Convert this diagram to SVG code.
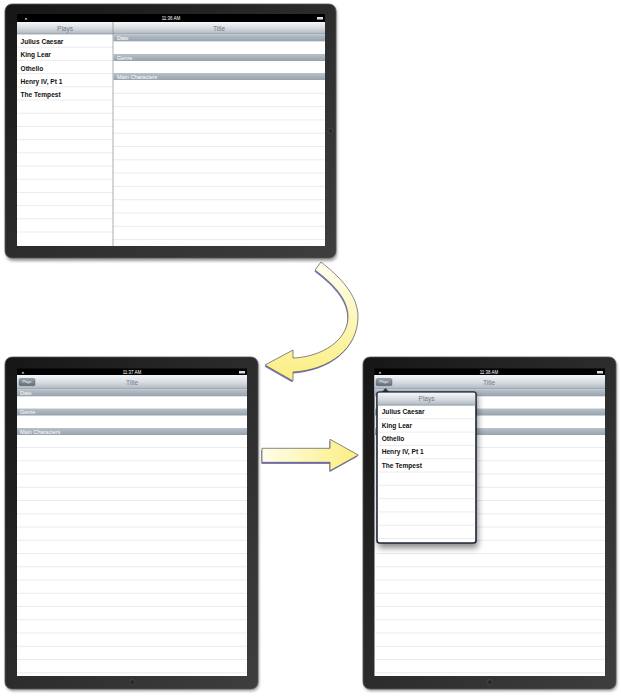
<svg xmlns="http://www.w3.org/2000/svg" width="621" height="696" viewBox="0 0 621 696">
<defs>
<linearGradient id="bezel" x1="0" y1="0" x2="1" y2="1">
<stop offset="0" stop-color="#161616"/><stop offset="0.5" stop-color="#2c2c2c"/><stop offset="1" stop-color="#3e3e3e"/>
</linearGradient>
<linearGradient id="nav" x1="0" y1="0" x2="0" y2="1">
<stop offset="0" stop-color="#f5f6f8"/><stop offset="0.5" stop-color="#d8dde2"/><stop offset="1" stop-color="#aeb6bf"/>
</linearGradient>
<linearGradient id="sec" x1="0" y1="0" x2="0" y2="1">
<stop offset="0" stop-color="#b9c2ca"/><stop offset="1" stop-color="#97a2ad"/>
</linearGradient>
<linearGradient id="btn" x1="0" y1="0" x2="0" y2="1">
<stop offset="0" stop-color="#9aa5b0"/><stop offset="1" stop-color="#5e6b79"/>
</linearGradient>
<linearGradient id="arrV" x1="0" y1="0" x2="0" y2="1">
<stop offset="0" stop-color="#fffef0"/><stop offset="1" stop-color="#fbee80"/>
</linearGradient>
<linearGradient id="arrH" x1="0" y1="0" x2="1" y2="0">
<stop offset="0" stop-color="#fffdeb"/><stop offset="1" stop-color="#fbee80"/>
</linearGradient>
<filter id="soft" x="-10%" y="-10%" width="120%" height="120%"><feGaussianBlur stdDeviation="1.5"/></filter>
<filter id="pop" x="-20%" y="-20%" width="140%" height="140%"><feGaussianBlur stdDeviation="3"/></filter>
<style>
.bz{fill:url(#bezel);stroke:#555;stroke-width:0.8}
.sh{fill:#9a9a9a;filter:url(#soft)}
.scr{fill:#fff}
.sb{fill:#000}
.nav{fill:url(#nav)}
.navl{stroke:#7d8791;stroke-width:0.6}
.sec{fill:url(#sec)}
.sl{stroke:#e3e3e3;stroke-width:0.7}
.tt{font-family:"Liberation Sans",Arial,sans-serif;font-size:6.5px;fill:#6e7984;text-anchor:middle}
.st{font-family:"Liberation Sans",Arial,sans-serif;font-size:4.5px;fill:#fff;text-anchor:middle}
.sx{font-family:"Liberation Sans",Arial,sans-serif;font-size:5.5px;fill:#fff}
.rw{font-family:"Liberation Sans",Arial,sans-serif;font-size:6.6px;font-weight:bold;fill:#111}
.bt{font-family:"Liberation Sans",Arial,sans-serif;font-size:3.6px;fill:#fff;text-anchor:middle}
.hb{fill:#2a2a2a;stroke:#4a4a4a;stroke-width:0.8}
.arr{stroke:#555;stroke-width:0.7}
.ash{fill:#7d76c6}
</style>
</defs>

<g id="ipad-landscape">
<rect class="sh" x="6" y="6" width="331" height="255" rx="7"/>
<rect class="bz" x="5" y="4" width="331" height="254" rx="7"/>
<rect class="scr" x="17" y="22" width="308" height="224"/>
<rect class="sb" x="17" y="14" width="308" height="8"/>
<text class="st" x="171" y="19.6">11:36 AM</text>
<path d="M24.5,19.5 l1.5,-2 l1.5,2 z" fill="#ccc"/>
<rect x="317" y="17" width="6" height="2.5" fill="#ddd"/>
<rect class="nav" x="17" y="22" width="308" height="12"/>
<line class="navl" x1="17" y1="34" x2="325" y2="34"/>
<text class="tt" x="65" y="30.5">Plays</text>
<text class="tt" x="219" y="30.5">Title</text>
<g class="sl">
<line x1="17" y1="47.2" x2="113" y2="47.2"/><line x1="17" y1="60.4" x2="113" y2="60.4"/><line x1="17" y1="73.6" x2="113" y2="73.6"/><line x1="17" y1="86.8" x2="113" y2="86.8"/><line x1="17" y1="100" x2="113" y2="100"/><line x1="17" y1="113.2" x2="113" y2="113.2"/><line x1="17" y1="126.4" x2="113" y2="126.4"/><line x1="17" y1="139.6" x2="113" y2="139.6"/><line x1="17" y1="152.8" x2="113" y2="152.8"/><line x1="17" y1="166" x2="113" y2="166"/><line x1="17" y1="179.2" x2="113" y2="179.2"/><line x1="17" y1="192.4" x2="113" y2="192.4"/><line x1="17" y1="205.6" x2="113" y2="205.6"/><line x1="17" y1="218.8" x2="113" y2="218.8"/><line x1="17" y1="232" x2="113" y2="232"/>
<line x1="113" y1="93.3" x2="325" y2="93.3"/><line x1="113" y1="106.6" x2="325" y2="106.6"/><line x1="113" y1="119.9" x2="325" y2="119.9"/><line x1="113" y1="133.2" x2="325" y2="133.2"/><line x1="113" y1="146.5" x2="325" y2="146.5"/><line x1="113" y1="159.8" x2="325" y2="159.8"/><line x1="113" y1="173.1" x2="325" y2="173.1"/><line x1="113" y1="186.4" x2="325" y2="186.4"/><line x1="113" y1="199.7" x2="325" y2="199.7"/><line x1="113" y1="213" x2="325" y2="213"/><line x1="113" y1="226.3" x2="325" y2="226.3"/><line x1="113" y1="239.6" x2="325" y2="239.6"/>
</g>
<text class="rw" x="20.5" y="44.2">Julius Caesar</text>
<text class="rw" x="20.5" y="57.4">King Lear</text>
<text class="rw" x="20.5" y="70.6">Othello</text>
<text class="rw" x="20.5" y="83.8">Henry IV, Pt 1</text>
<text class="rw" x="20.5" y="97">The Tempest</text>
<rect class="sec" x="113.5" y="34.3" width="211.5" height="7"/>
<rect class="sec" x="113.5" y="54" width="211.5" height="7"/>
<rect class="sec" x="113.5" y="73" width="211.5" height="7"/>
<text class="sx" x="117" y="40">Date</text>
<text class="sx" x="117" y="59.6">Genre</text>
<text class="sx" x="117" y="78.6">Main Characters</text>
<line x1="113" y1="22" x2="113" y2="246" stroke="#8a8a8a" stroke-width="0.7"/>
<circle class="hb" cx="330.5" cy="131" r="2.6"/>
</g>

<g id="ipad-portrait">
<rect class="sh" x="6" y="359" width="253" height="332" rx="7"/>
<rect class="bz" x="5" y="357" width="253" height="332" rx="7"/>
<rect class="scr" x="17" y="375" width="230" height="301"/>
<rect class="sb" x="17" y="368.5" width="230" height="6.5"/>
<text class="st" x="132" y="373.6">11:37 AM</text>
<path d="M21.5,373.5 l1.5,-2 l1.5,2 z" fill="#ccc"/>
<rect x="239" y="371" width="6" height="2.5" fill="#ddd"/>
<rect class="nav" x="17" y="375" width="230" height="14"/>
<line class="navl" x1="17" y1="389" x2="247" y2="389"/>
<rect x="19" y="378.5" width="16" height="7.2" rx="1.5" fill="url(#btn)" stroke="#4f5b67" stroke-width="0.4"/>
<text class="bt" x="27" y="383.4">Plays</text>
<text class="tt" x="132" y="385">Title</text>
<rect class="sec" x="17" y="389.3" width="230" height="7"/>
<rect class="sec" x="17" y="408.5" width="230" height="7"/>
<rect class="sec" x="17" y="428" width="230" height="7"/>
<text class="sx" x="20" y="394.8">Date</text>
<text class="sx" x="20" y="414">Genre</text>
<text class="sx" x="20" y="433.5">Main Characters</text>
<g class="sl">
<line x1="17" y1="447.5" x2="247" y2="447.5"/><line x1="17" y1="460.8" x2="247" y2="460.8"/><line x1="17" y1="474" x2="247" y2="474"/><line x1="17" y1="487.3" x2="247" y2="487.3"/><line x1="17" y1="500.5" x2="247" y2="500.5"/><line x1="17" y1="513.8" x2="247" y2="513.8"/><line x1="17" y1="527" x2="247" y2="527"/><line x1="17" y1="540.3" x2="247" y2="540.3"/><line x1="17" y1="553.5" x2="247" y2="553.5"/><line x1="17" y1="566.8" x2="247" y2="566.8"/><line x1="17" y1="580" x2="247" y2="580"/><line x1="17" y1="593.3" x2="247" y2="593.3"/><line x1="17" y1="606.5" x2="247" y2="606.5"/><line x1="17" y1="619.8" x2="247" y2="619.8"/><line x1="17" y1="633" x2="247" y2="633"/><line x1="17" y1="646.3" x2="247" y2="646.3"/><line x1="17" y1="659.5" x2="247" y2="659.5"/><line x1="17" y1="672.8" x2="247" y2="672.8"/>
</g>
<circle class="hb" cx="132.5" cy="682.3" r="2.8"/>
</g>

<g id="ipad-popover">
<rect class="sh" x="364" y="359" width="253" height="332" rx="7"/>
<rect class="bz" x="363" y="357" width="253" height="332" rx="7"/>
<rect class="scr" x="374.5" y="375" width="230.5" height="301"/>
<rect class="sb" x="374.5" y="368.5" width="230.5" height="6.5"/>
<text class="st" x="489" y="373.6">11:38 AM</text>
<path d="M378.5,373.5 l1.5,-2 l1.5,2 z" fill="#ccc"/>
<rect x="597" y="371" width="6" height="2.5" fill="#ddd"/>
<rect class="nav" x="374.5" y="375" width="230.5" height="14"/>
<line class="navl" x1="374.5" y1="389" x2="605" y2="389"/>
<rect x="376" y="378.5" width="16" height="7.2" rx="1.5" fill="url(#btn)" stroke="#4f5b67" stroke-width="0.4"/>
<text class="bt" x="384" y="383.4">Plays</text>
<text class="tt" x="489" y="385">Title</text>
<rect class="sec" x="374.5" y="389.3" width="230.5" height="7"/>
<rect class="sec" x="374.5" y="408.5" width="230.5" height="7"/>
<rect class="sec" x="374.5" y="428" width="230.5" height="7"/>
<text class="sx" x="377.5" y="394.8">Date</text>
<g class="sl">
<line x1="374.5" y1="447.5" x2="605" y2="447.5"/><line x1="374.5" y1="460.8" x2="605" y2="460.8"/><line x1="374.5" y1="474" x2="605" y2="474"/><line x1="374.5" y1="487.3" x2="605" y2="487.3"/><line x1="374.5" y1="500.5" x2="605" y2="500.5"/><line x1="374.5" y1="513.8" x2="605" y2="513.8"/><line x1="374.5" y1="527" x2="605" y2="527"/><line x1="374.5" y1="540.3" x2="605" y2="540.3"/><line x1="374.5" y1="553.5" x2="605" y2="553.5"/><line x1="374.5" y1="566.8" x2="605" y2="566.8"/><line x1="374.5" y1="580" x2="605" y2="580"/><line x1="374.5" y1="593.3" x2="605" y2="593.3"/><line x1="374.5" y1="606.5" x2="605" y2="606.5"/><line x1="374.5" y1="619.8" x2="605" y2="619.8"/><line x1="374.5" y1="633" x2="605" y2="633"/><line x1="374.5" y1="646.3" x2="605" y2="646.3"/><line x1="374.5" y1="659.5" x2="605" y2="659.5"/><line x1="374.5" y1="672.8" x2="605" y2="672.8"/>
</g>
<circle class="hb" cx="490" cy="682.3" r="2.8"/>
<g id="popover">
<rect x="378" y="395" width="100" height="153" rx="3" fill="#000" opacity="0.45" filter="url(#pop)"/>
<path d="M381.5,392.5 L385.5,388 L389.5,392.5 Z" fill="#2a3248"/>
<rect x="377" y="392" width="99" height="151" rx="2.5" fill="#fff" stroke="#1e2538" stroke-width="1.6"/>
<rect x="377.8" y="392.8" width="97.4" height="12.4" fill="url(#nav)"/>
<line class="navl" x1="377.8" y1="405.2" x2="475.2" y2="405.2"/>
<text class="tt" x="426.5" y="401.2">Plays</text>
<g class="sl">
<line x1="377.8" y1="418.8" x2="475.2" y2="418.8"/><line x1="377.8" y1="432.1" x2="475.2" y2="432.1"/><line x1="377.8" y1="445.4" x2="475.2" y2="445.4"/><line x1="377.8" y1="458.7" x2="475.2" y2="458.7"/><line x1="377.8" y1="472" x2="475.2" y2="472"/><line x1="377.8" y1="485.3" x2="475.2" y2="485.3"/><line x1="377.8" y1="498.6" x2="475.2" y2="498.6"/><line x1="377.8" y1="511.9" x2="475.2" y2="511.9"/><line x1="377.8" y1="525.2" x2="475.2" y2="525.2"/><line x1="377.8" y1="538.5" x2="475.2" y2="538.5"/>
</g>
<text class="rw" x="381.7" y="414.4">Julius Caesar</text>
<text class="rw" x="381.7" y="427.7">King Lear</text>
<text class="rw" x="381.7" y="441">Othello</text>
<text class="rw" x="381.7" y="454.3">Henry IV, Pt 1</text>
<text class="rw" x="381.7" y="467.6">The Tempest</text>
</g>
</g>

<g id="connectors">
<path class="ash" transform="translate(-0.6,1.6)" d="M315,270 L321,262 C340,277 358,295 358,317 C358,348 330,370 293,372 L293,381 L265,365 L293,350 L293,358 C322,357 348,340 348,317 C348,298 332,283 315,270 Z"/>
<path class="arr" fill="url(#arrV)" d="M315,270 L321,262 C340,277 358,295 358,317 C358,348 330,370 293,372 L293,381 L265,365 L293,350 L293,358 C322,357 348,340 348,317 C348,298 332,283 315,270 Z"/>
<path class="ash" transform="translate(-0.6,1.6)" d="M262,448.3 L330,448.3 L330,439.3 L358.3,455 L330,470.7 L330,462.3 L262,462.3 Z"/>
<path class="arr" fill="url(#arrH)" d="M262,448.3 L330,448.3 L330,439.3 L358.3,455 L330,470.7 L330,462.3 L262,462.3 Z"/>
</g>
</svg>
